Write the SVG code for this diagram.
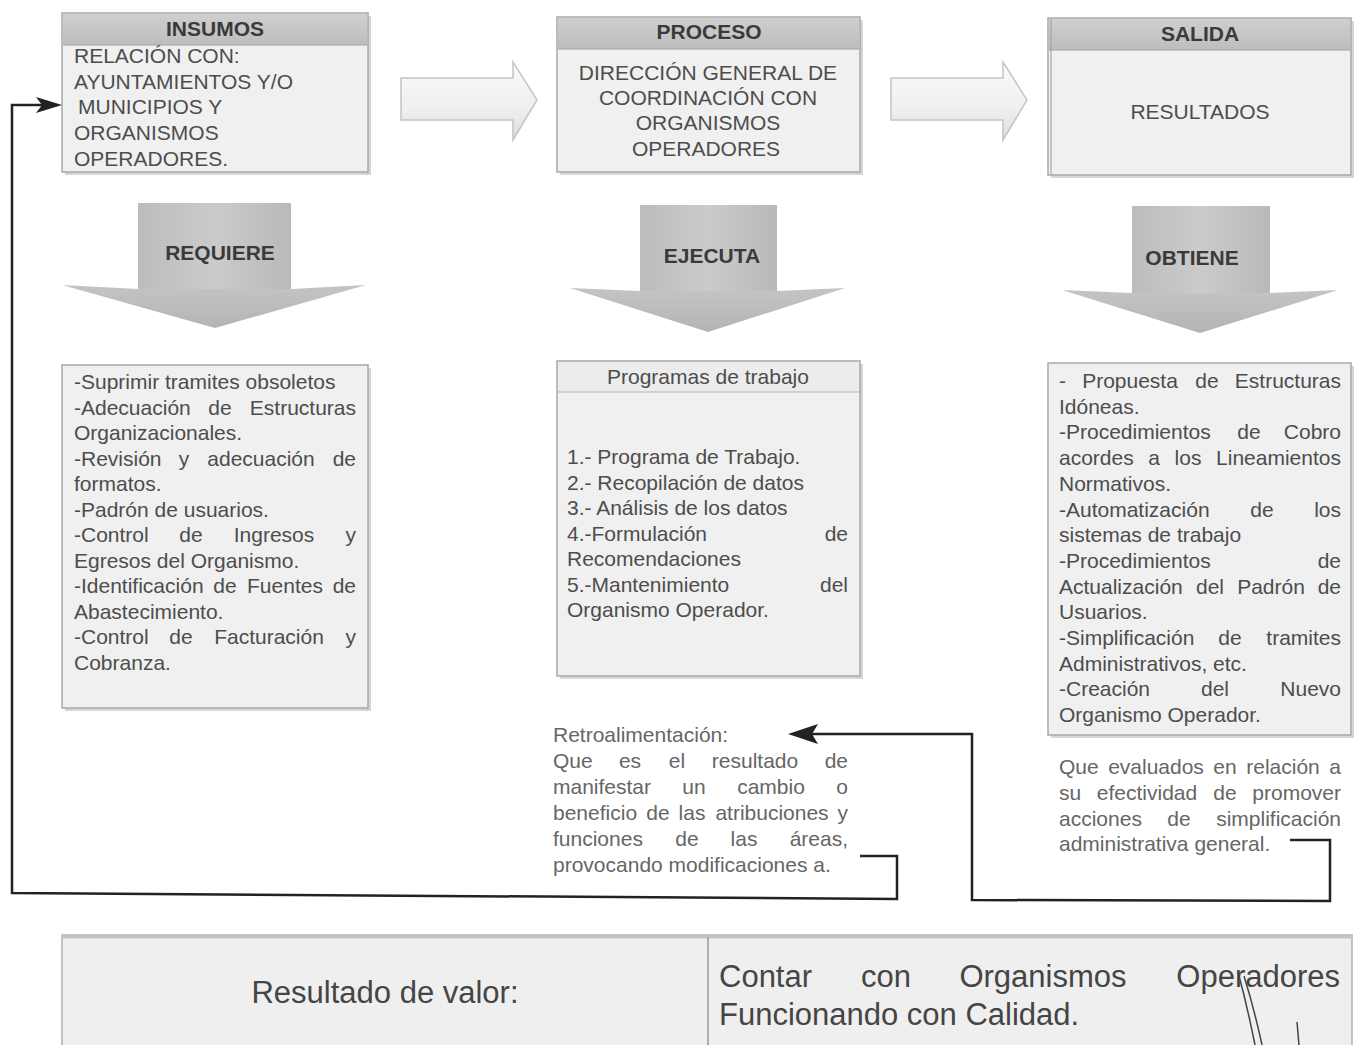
<svg xmlns="http://www.w3.org/2000/svg" width="1361" height="1045" viewBox="0 0 1361 1045">
<defs>
<linearGradient id="hdr" x1="0" y1="0" x2="0" y2="1"><stop offset="0" stop-color="#cfcfcf"/><stop offset="1" stop-color="#bdbdbd"/></linearGradient>
<linearGradient id="shaft" x1="0" y1="0" x2="1" y2="0"><stop offset="0" stop-color="#bcbcbc"/><stop offset="0.5" stop-color="#cbcbcb"/><stop offset="1" stop-color="#b9b9b9"/></linearGradient>
<linearGradient id="head" x1="0" y1="0" x2="0" y2="1"><stop offset="0" stop-color="#c4c4c4"/><stop offset="1" stop-color="#b4b4b4"/></linearGradient>
<linearGradient id="hollow" x1="0" y1="0" x2="0" y2="1"><stop offset="0" stop-color="#fbfbfb"/><stop offset="0.6" stop-color="#efefef"/><stop offset="1" stop-color="#dedede"/></linearGradient>
</defs>
<style>
text{font-family:"Liberation Sans",Arial,sans-serif;font-size:21px;fill:#4d4d4d}
.b{font-weight:bold;fill:#3a3a3a}
.m{text-anchor:middle}
.e{text-anchor:end}
.r{fill:#666}
.big{font-size:31px;fill:#454545}
.box{fill:#f0f0f0;stroke:#a8a8a8;stroke-width:1.5}
.shadow{fill:#d6d6d6}
.hdrband{fill:url(#hdr)}
.down{fill:url(#shaft)}
.downhead{fill:url(#head)}
.hol{fill:url(#hollow);stroke:#c4c4c4;stroke-width:1.5}
.con{fill:none;stroke:#222;stroke-width:2.5;stroke-linejoin:miter}
.ah{fill:#222}
.sig{fill:none;stroke:#444;stroke-width:1.5}
</style>
<rect width="1361" height="1045" fill="#ffffff"/>

<g id="insumos">
<rect class="shadow" x="65" y="16" width="306" height="159"/>
<rect class="box" x="62" y="13" width="306" height="159"/>
<rect class="hdrband" x="63" y="14" width="304" height="31"/>
<line x1="63" y1="45" x2="367" y2="45" stroke="#a0a0a0" stroke-width="1"/>
<text class="b m" x="215" y="36" font-size="19">INSUMOS</text>
<text x="74" y="63">RELACIÓN CON:</text>
<text x="74" y="89">AYUNTAMIENTOS Y/O</text>
<text x="78" y="114">MUNICIPIOS  Y</text>
<text x="74" y="140">ORGANISMOS</text>
<text x="74" y="166">OPERADORES.</text>
</g>

<g id="proceso">
<rect class="shadow" x="560" y="20" width="303" height="155"/>
<rect class="box" x="557" y="17" width="303" height="155"/>
<rect class="hdrband" x="558" y="18" width="301" height="31"/>
<line x1="558" y1="49" x2="859" y2="49" stroke="#a0a0a0" stroke-width="1"/>
<text class="b m" x="709" y="39" font-size="19">PROCESO</text>
<text class="m" x="708" y="80">DIRECCIÓN GENERAL DE</text>
<text class="m" x="708" y="105">COORDINACIÓN CON</text>
<text class="m" x="708" y="130">ORGANISMOS</text>
<text class="m" x="706" y="156">OPERADORES</text>
</g>

<g id="salida">
<rect class="shadow" x="1051" y="21" width="303" height="157"/>
<rect class="box" x="1048" y="18" width="303" height="157"/>
<rect class="hdrband" x="1049" y="19" width="301" height="31"/>
<line x1="1049" y1="50" x2="1350" y2="50" stroke="#a0a0a0" stroke-width="1"/>
<line x1="1051" y1="19" x2="1051" y2="174" stroke="#9a9a9a" stroke-width="1"/>
<text class="b m" x="1200" y="41" font-size="19">SALIDA</text>
<text class="m" x="1200" y="119">RESULTADOS</text>
</g>

<g id="arrow-right-1">
<polygon class="hol" points="401,78 513,78 513,62 537,100 513,140 513,120 401,120"/>
</g>
<g id="arrow-right-2">
<polygon class="hol" points="891,78 1003,78 1003,62 1027,100 1003,140 1003,120 891,120"/>
</g>

<g id="requiere">
<rect class="down" x="138" y="203" width="153" height="86"/>
<polygon class="downhead" points="62,285 138,289 291,289 366,285 215,328"/>
<text class="b m" x="220" y="260" font-size="20">REQUIERE</text>
</g>

<g id="ejecuta">
<rect class="down" x="640" y="205" width="137" height="86"/>
<polygon class="downhead" points="570,288 640,291 777,291 845,288 708,332"/>
<text class="b m" x="712" y="263" font-size="20">EJECUTA</text>
</g>

<g id="obtiene">
<rect class="down" x="1132" y="206" width="138" height="87"/>
<polygon class="downhead" points="1062,290 1132,293 1270,293 1338,290 1200,333"/>
<text class="b m" x="1192" y="265" font-size="20">OBTIENE</text>
</g>

<g id="requiere-list">
<rect class="shadow" x="65" y="368" width="306" height="343"/>
<rect class="box" x="62" y="365" width="306" height="343"/>
<text x="74" y="389">-Suprimir tramites obsoletos</text>
<text x="74" y="414.5">-Adecuación</text><text class="m" x="220" y="414.5">de</text><text class="e" x="356" y="414.5">Estructuras</text>
<text x="74" y="440">Organizacionales.</text>
<text x="74" y="465.5">-Revisión</text><text class="m" x="184" y="465.5">y</text><text class="m" x="261" y="465.5">adecuación</text><text class="e" x="356" y="465.5">de</text>
<text x="74" y="491">formatos.</text>
<text x="74" y="516.5">-Padrón de usuarios.</text>
<text x="74" y="542">-Control</text><text class="m" x="191" y="542">de</text><text class="m" x="274" y="542">Ingresos</text><text class="e" x="356" y="542">y</text>
<text x="74" y="567.5">Egresos del Organismo.</text>
<text x="74" y="593">-Identificación</text><text class="m" x="225" y="593">de</text><text class="m" x="285" y="593">Fuentes</text><text class="e" x="356" y="593">de</text>
<text x="74" y="618.5">Abastecimiento.</text>
<text x="74" y="644">-Control</text><text class="m" x="181" y="644">de</text><text class="m" x="269" y="644">Facturación</text><text class="e" x="356" y="644">y</text>
<text x="74" y="669.5">Cobranza.</text>
</g>

<g id="programas">
<rect class="shadow" x="560" y="364" width="303" height="315"/>
<rect class="box" x="557" y="361" width="303" height="315"/>
<rect x="558" y="362" width="301" height="30" fill="#ececec"/>
<line x1="558" y1="392" x2="859" y2="392" stroke="#b4b4b4" stroke-width="1.2"/>
<text class="m" x="708" y="384">Programas de trabajo</text>
<text x="567" y="464">1.- Programa de Trabajo.</text>
<text x="567" y="489.5">2.- Recopilación de datos</text>
<text x="567" y="515">3.- Análisis de los datos</text>
<text x="567" y="540.5">4.-Formulación</text><text class="e" x="848" y="540.5">de</text>
<text x="567" y="566">Recomendaciones</text>
<text x="567" y="591.5">5.-Mantenimiento</text><text class="e" x="848" y="591.5">del</text>
<text x="567" y="617">Organismo Operador.</text>
</g>

<g id="obtiene-list">
<rect class="shadow" x="1051" y="366" width="303" height="372"/>
<rect class="box" x="1048" y="363" width="303" height="372"/>
<text x="1059" y="388">-</text><text class="m" x="1130" y="388">Propuesta</text><text class="m" x="1207" y="388">de</text><text class="e" x="1341" y="388">Estructuras</text>
<text x="1059" y="413.7">Idóneas.</text>
<text x="1059" y="439.4">-Procedimientos</text><text class="m" x="1249" y="439.4">de</text><text class="e" x="1341" y="439.4">Cobro</text>
<text x="1059" y="465.1">acordes</text><text class="m" x="1154" y="465.1">a</text><text class="m" x="1188" y="465.1">los</text><text class="e" x="1341" y="465.1">Lineamientos</text>
<text x="1059" y="490.8">Normativos.</text>
<text x="1059" y="516.5">-Automatización</text><text class="m" x="1262" y="516.5">de</text><text class="e" x="1341" y="516.5">los</text>
<text x="1059" y="542.2">sistemas de trabajo</text>
<text x="1059" y="567.9">-Procedimientos</text><text class="e" x="1341" y="567.9">de</text>
<text x="1059" y="593.6">Actualización</text><text class="m" x="1210" y="593.6">del</text><text class="m" x="1271" y="593.6">Padrón</text><text class="e" x="1341" y="593.6">de</text>
<text x="1059" y="619.3">Usuarios.</text>
<text x="1059" y="645">-Simplificación</text><text class="m" x="1230" y="645">de</text><text class="e" x="1341" y="645">tramites</text>
<text x="1059" y="670.7">Administrativos, etc.</text>
<text x="1059" y="696.4">-Creación</text><text class="m" x="1215" y="696.4">del</text><text class="e" x="1341" y="696.4">Nuevo</text>
<text x="1059" y="722.1">Organismo Operador.</text>
</g>

<g id="retroalimentacion">
<text class="r" x="553" y="742">Retroalimentación:</text>
<text class="r" x="553" y="768">Que</text><text class="r m" x="630" y="768">es</text><text class="r m" x="677" y="768">el</text><text class="r m" x="755" y="768">resultado</text><text class="r e" x="848" y="768">de</text>
<text class="r" x="553" y="794">manifestar</text><text class="r m" x="694" y="794">un</text><text class="r m" x="771" y="794">cambio</text><text class="r e" x="848" y="794">o</text>
<text class="r" x="553" y="820">beneficio</text><text class="r m" x="658" y="820">de</text><text class="r m" x="692" y="820">las</text><text class="r m" x="772" y="820">atribuciones</text><text class="r e" x="848" y="820">y</text>
<text class="r" x="553" y="846">funciones</text><text class="r m" x="687" y="846">de</text><text class="r m" x="744" y="846">las</text><text class="r e" x="848" y="846">áreas,</text>
<text class="r" x="553" y="872">provocando modificaciones a.</text>
</g>

<g id="evaluacion">
<text class="r" x="1059" y="774">Que</text><text class="r m" x="1156" y="774">evaluados</text><text class="r m" x="1225" y="774">en</text><text class="r m" x="1283" y="774">relación</text><text class="r e" x="1341" y="774">a</text>
<text class="r" x="1059" y="800">su</text><text class="r m" x="1147" y="800">efectividad</text><text class="r m" x="1225" y="800">de</text><text class="r e" x="1341" y="800">promover</text>
<text class="r" x="1059" y="825.5">acciones</text><text class="r m" x="1179" y="825.5">de</text><text class="r e" x="1341" y="825.5">simplificación</text>
<text class="r" x="1059" y="851">administrativa general.</text>
</g>

<g id="resultado-valor">
<rect x="62" y="935" width="1290" height="115" fill="#efefef" stroke="#b0b0b0" stroke-width="1.5"/>
<line x1="62" y1="937" x2="1352" y2="937" stroke="#c4c4c4" stroke-width="3"/>
<line x1="708" y1="937" x2="708" y2="1045" stroke="#9a9a9a" stroke-width="1.5"/>
<text class="big m" x="385" y="1003">Resultado de valor:</text>
<text class="big" x="719" y="987">Contar</text><text class="big m" x="886" y="987">con</text><text class="big m" x="1043" y="987">Organismos</text><text class="big e" x="1340" y="987">Operadores</text>
<text class="big" x="719" y="1025">Funcionando con Calidad.</text>
<path class="sig" d="M1238 972 Q1247 1005 1255 1045"/>
<path class="sig" d="M1244 976 Q1254 1008 1262 1045"/>
<path class="sig" d="M1297 1022 L1299 1045"/>
</g>

<g id="connectors">
<polyline class="con" points="860,856 897,856 897,899 12,893 12,105 42,105"/>
<polygon class="ah" points="62,105 36,97 42,105 36,113"/>
<polyline class="con" points="1290,840 1330,840 1330,901 972,900 972,734 812,734"/>
<polygon class="ah" points="788,734 818,724 812,734 818,744"/>
</g>
</svg>
